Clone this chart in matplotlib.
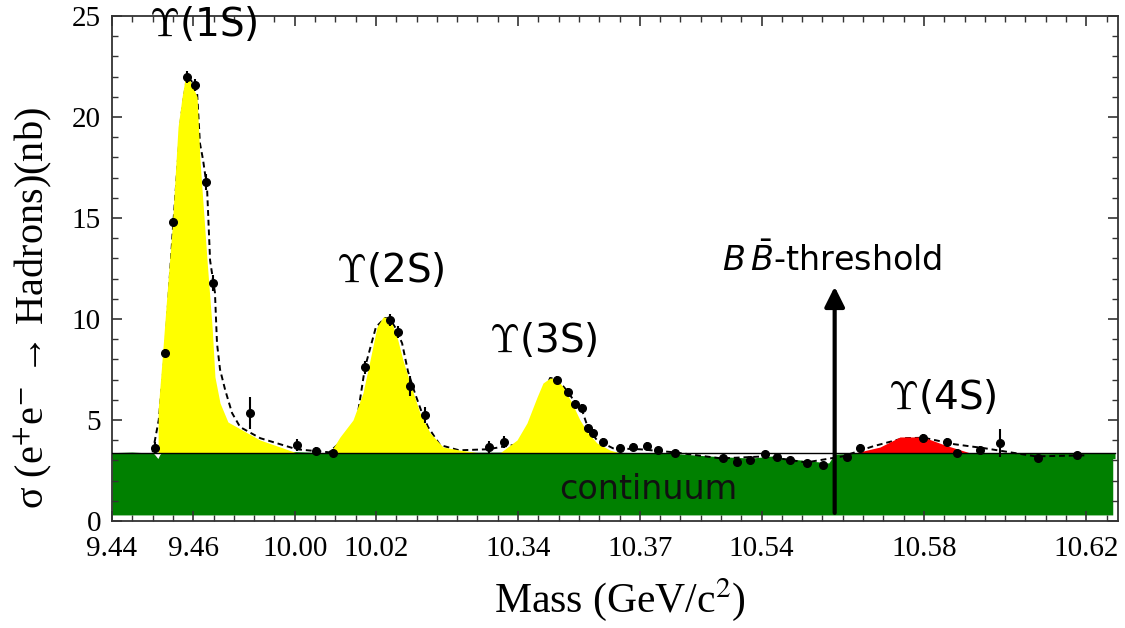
import numpy as np
import matplotlib
matplotlib.use("Agg")
import matplotlib.pyplot as plt

# broken mass axis: labels sit at fixed positions along the plot
tick_pos = [0, 4, 9, 13, 20, 26, 32, 40, 48]
tick_labels = ["9.44", "9.46", "10.00", "10.02", "10.34", "10.37", "10.54", "10.58", "10.62"]

cont_level = 3.37

# continuum (green) upper edge
cont_x = [0, 1, 2, 2.2, 2.35, 2.5, 3, 5, 7, 9, 10.5, 12, 14, 16, 18, 20, 22, 24, 26, 27.5,
          28.5, 29.5, 30.5, 31.5, 32.5, 33.5, 34.5, 35.4, 35.7, 36.5, 38, 40, 42, 44, 46, 48, 49.3]
cont_y = [3.22, 3.25, 3.2, 2.95, 2.9, 3.2, 3.27, 3.27, 3.25, 3.27, 3.22, 3.27, 3.25, 3.27, 3.24,
          3.25, 3.27, 3.25, 3.22, 3.2, 3.12, 3.05, 3.0, 2.95, 3.05, 2.9, 2.8, 2.7, 3.15, 3.18,
          3.2, 3.2, 3.18, 3.2, 3.17, 3.2, 3.2]

# resonance shapes
s1_x = [2.27, 2.27, 2.46, 2.71, 2.96, 3.25, 3.45, 3.60, 3.84, 4.19, 4.33, 4.68, 4.93, 5.07, 5.32, 5.71, 7.29, 9.11]
s1_y = [3.37, 5.50, 7.92, 11.3, 14.5, 19.5, 21.0, 21.9, 21.8, 21.0, 17.9, 12.9, 9.60, 7.13, 5.84, 4.90, 4.01, 3.37]
s2_x = [10.74, 11.23, 11.87, 12.36, 12.71, 13.05, 13.35, 13.69, 14.04, 14.33, 14.68, 15.17, 15.67, 16.31, 17.14, 18.13]
s2_y = [3.37, 4.16, 5.0, 6.34, 7.97, 9.60, 10.1, 10.05, 9.11, 7.97, 6.83, 5.35, 4.36, 3.66, 3.51, 3.37]
s3_x = [19.11, 19.95, 20.44, 20.94, 21.23, 21.58, 21.92, 22.22, 22.66, 23.05, 23.45, 23.89, 24.53, 25.02]
s3_y = [3.37, 4.01, 4.85, 6.14, 6.83, 7.08, 7.03, 6.63, 5.84, 5.0, 4.36, 3.86, 3.51, 3.37]
s4_x = [36.6, 37.83, 38.82, 39.95, 41.03, 42.27]
s4_y = [3.37, 3.66, 4.16, 4.16, 3.76, 3.37]

# fit curve (dashed)
fit_x = [2.0, 2.3, 2.6, 3.0, 3.4, 3.69, 4.09, 4.19, 4.33, 4.48, 4.68, 4.83, 5.07, 5.17, 5.32, 5.57,
         5.91, 6.31, 7.3, 9.1, 10.7, 12.0, 12.46, 13.0, 13.45, 13.69, 13.94, 14.29, 14.58, 14.93,
         15.27, 15.57, 16.16, 17.1, 18.5, 20.0, 21.0, 21.58, 21.92, 22.37, 22.8, 23.15, 23.45,
         23.89, 24.68, 26.0, 27.7, 30.0, 32.2, 34.2, 36.0, 37.5, 39.0, 40.0, 41.5, 43.0, 45.5, 48.0]
fit_y = [3.4, 5.0, 8.3, 14.5, 20.0, 22.0, 21.6, 21.2, 18.7, 17.9, 16.5, 12.9, 11.3, 8.8, 7.5, 6.5,
         5.35, 4.65, 4.1, 3.55, 3.4, 4.6, 7.6, 9.6, 10.05, 10.0, 9.6, 8.8, 7.4, 6.3,
         5.35, 4.65, 3.76, 3.5, 3.55, 3.8, 5.6, 7.08, 7.03, 6.5, 5.9, 5.5, 4.6,
         4.0, 3.6, 3.55, 3.4, 3.1, 3.2, 2.9, 3.2, 3.7, 4.1, 4.12, 3.8, 3.6, 3.2, 3.25]

# measured points (x position, sigma, error)
pt_x = [2.12, 2.61, 3.0, 3.69, 4.09, 4.63, 4.98, 6.8, 9.11, 10.05, 10.9,
        12.46, 13.7, 14.09, 14.68, 15.42,
        18.57, 19.31, 21.92, 22.46, 22.81, 23.15, 23.45, 23.69, 24.19, 25.02, 25.67, 26.35,
        26.9, 27.73, 30.1, 30.79, 31.43, 32.17, 32.76, 33.4, 34.24, 35.02,
        36.21, 36.85, 39.95, 41.13, 41.63, 42.76, 43.74, 45.62, 47.54]
pt_y = [3.6, 8.3, 14.8, 22.0, 21.6, 16.8, 11.8, 5.35, 3.75, 3.45, 3.35,
        7.6, 9.95, 9.35, 6.7, 5.25,
        3.65, 3.9, 7.0, 6.4, 5.8, 5.6, 4.6, 4.35, 3.9, 3.6, 3.65, 3.7,
        3.5, 3.37, 3.1, 2.9, 3.0, 3.3, 3.17, 3.0, 2.87, 2.77,
        3.17, 3.61, 4.11, 3.91, 3.37, 3.51, 3.86, 3.12, 3.27]
pt_err = [0.3, 0.2, 0.2, 0.3, 0.3, 0.4, 0.4, 0.8, 0.3, 0.2, 0.2,
          0.3, 0.3, 0.3, 0.5, 0.4,
          0.3, 0.3, 0.2, 0.2, 0.2, 0.2, 0.2, 0.2, 0.2, 0.2, 0.2, 0.2,
          0.15, 0.15, 0.15, 0.15, 0.15, 0.15, 0.15, 0.15, 0.15, 0.15,
          0.15, 0.2, 0.2, 0.2, 0.2, 0.2, 0.7, 0.15, 0.15]

peak_labels = [r"$\Upsilon$(1S)", r"$\Upsilon$(2S)", r"$\Upsilon$(3S)", r"$\Upsilon$(4S)"]
peak_label_x = [4.48, 13.7, 21.23, 40.9]
peak_label_y = [24.6, 12.4, 8.95, 6.1]

threshold_x = 35.6

fig = plt.figure(figsize=(11.25, 6.28), dpi=100)
ax = fig.add_axes([0.0996, 0.1704, 0.8942, 0.8041])

ax.fill_between(cont_x, 0.3, cont_y, color="#008000", lw=0, zorder=1)
ax.plot(cont_x, cont_y, color="#008000", lw=4, solid_joinstyle="round", zorder=1)

# dashed fit sits under the coloured peaks, like in the original
ax.plot(fit_x, fit_y, color="black", ls=(0, (3, 2)), lw=1.4, zorder=1.5)

ax.fill_between(s1_x, cont_level, s1_y, color="#ffff00", lw=0, zorder=2)
ax.fill_between(s2_x, cont_level, s2_y, color="#ffff00", lw=0, zorder=2)
ax.fill_between(s3_x, cont_level, s3_y, color="#ffff00", lw=0, zorder=2)
ax.fill_between(s4_x, cont_level, s4_y, color="#ff0000", lw=0, zorder=2)

ax.axhline(cont_level, xmin=0, xmax=0.997, color="black", lw=1, zorder=3)
ax.errorbar(pt_x, pt_y, yerr=pt_err, fmt="o", color="black", ms=5.5, elinewidth=1.5,
            capsize=0, zorder=5)

ax.annotate("", xy=(threshold_x, 11.6), xytext=(threshold_x, 0.4),
            arrowprops=dict(arrowstyle="-|>", lw=3, color="black", mutation_scale=30,
                            shrinkA=0, shrinkB=0), zorder=6)
ax.text(35.45, 12.9, r"$B\,\bar{B}$-threshold", fontsize=24, ha="center", va="center",
        family="DejaVu Sans", math_fontfamily="dejavusans")
ax.text(26.4, 1.55, "continuum", fontsize=24, ha="center", va="center",
        color="#111111", family="DejaVu Sans", zorder=7)

for lab, lx, ly in zip(peak_labels, peak_label_x, peak_label_y):
    ax.text(lx, ly, lab, fontsize=28, ha="center", va="center", family="DejaVu Sans",
            math_fontfamily="cm", clip_on=False, zorder=7)

ax.set_xlim(0, 49.56)
ax.set_ylim(0, 25)
ax.set_xticks(tick_pos)
ax.set_xticklabels(tick_labels)
minor_x = [v for v in range(1, 50) if v not in tick_pos]
ax.set_xticks(minor_x, minor=True)
ax.set_yticks([0, 5, 10, 15, 20, 25])
ax.set_yticks(np.arange(0, 26, 1), minor=True)

ax.tick_params(which="both", direction="in", top=True, right=True, color="#333333")
ax.tick_params(which="major", length=7, width=1.2, labelsize=21, pad=8)
ax.tick_params(axis="x", which="major", pad=11)
ax.tick_params(which="minor", length=4, width=1.0)
for lab in ax.get_xticklabels() + ax.get_yticklabels():
    lab.set_family(["Liberation Serif", "DejaVu Serif"])
for sp in ax.spines.values():
    sp.set_linewidth(1.3)
    sp.set_color("#333333")

fig.text(33 / 1125, 1 - 308 / 628, "σ (e$^{+}$e$^{-}$ → Hadrons)(nb)", rotation=90,
         ha="center", va="center", fontsize=29, family=["Liberation Serif", "DejaVu Serif"],
         math_fontfamily="stix")
fig.text(620 / 1125, 1 - 600 / 628, "Mass (GeV/c$^{2}$)", ha="center", va="center",
         fontsize=30, family=["Liberation Serif", "DejaVu Serif"], math_fontfamily="stix")

fig.savefig("out.png", dpi=100)
